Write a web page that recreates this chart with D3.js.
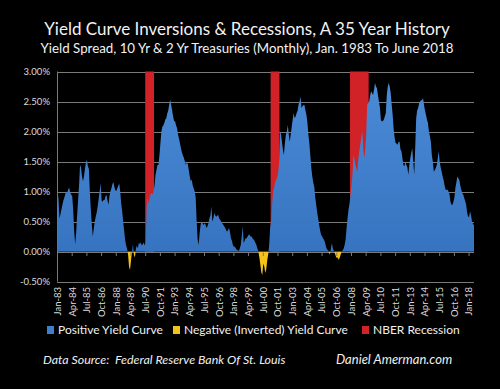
<!DOCTYPE html>
<html>
<head>
<meta charset="utf-8">
<script src="https://cdn.jsdelivr.net/npm/d3@7"></script>
<style>
  body { margin: 0; background: #000; }
  svg { display: block; }
  text { font-family: Lato, "Open Sans", sans-serif; }
</style>
</head>
<body>
<svg id="chart"></svg>
<script>
// monthly 10 yr - 2 yr spread (%), Jan 1983 .. Jun 2018
const startMonth = "1983-01";
const spread = [
  1.00, 0.88, 0.55, 0.62, 0.70, 0.78, 0.85, 0.90, 0.96, 1.00, 0.98, 1.04, // 1983
  1.06, 0.98, 0.95, 0.92, 0.70, 0.35, 0.12, 0.30, 0.60, 0.85, 1.10, 1.44, // 1984
  1.40, 1.25, 1.17, 1.25, 1.38, 1.48, 1.53, 1.42, 1.38, 1.00, 0.70, 0.45, // 1985
  0.25, 0.38, 0.50, 0.58, 0.65, 0.75, 0.88, 1.00, 1.14, 0.85, 0.83, 0.86, // 1986
  0.86, 0.92, 0.94, 0.85, 0.78, 0.92, 1.00, 1.05, 1.12, 1.16, 1.08, 1.02, // 1987
  1.01, 1.05, 1.10, 1.13, 1.00, 0.80, 0.67, 0.50, 0.35, 0.20, 0.10, 0.05, // 1988
  -0.05, -0.25, -0.31, -0.15, 0.00, 0.12, -0.06, -0.10, 0.05, 0.10, 0.05, 0.15, // 1989
  0.12, 0.15, 0.10, 0.12, 0.15, 0.10, 0.15, 0.75, 0.90, 0.80, 0.90, 0.95, // 1990
  0.98, 0.95, 1.00, 1.10, 1.28, 1.36, 1.44, 1.44, 1.60, 1.80, 2.00, 2.08, // 1991
  2.10, 2.14, 2.20, 2.22, 2.30, 2.35, 2.45, 2.53, 2.44, 2.35, 2.25, 2.17, // 1992
  2.17, 2.10, 2.06, 1.95, 1.88, 1.80, 1.72, 1.65, 1.60, 1.56, 1.50, 1.44, // 1993
  1.50, 1.45, 1.35, 1.25, 1.17, 1.20, 1.10, 1.05, 1.00, 0.90, 0.50, 0.20, // 1994
  0.11, 0.30, 0.44, 0.50, 0.47, 0.44, 0.47, 0.45, 0.39, 0.42, 0.47, 0.55, // 1995
  0.60, 0.75, 0.50, 0.55, 0.64, 0.60, 0.58, 0.60, 0.61, 0.55, 0.53, 0.50, // 1996
  0.47, 0.45, 0.42, 0.40, 0.36, 0.33, 0.36, 0.39, 0.33, 0.22, 0.18, 0.11, // 1997
  0.08, 0.08, 0.05, 0.03, 0.02, 0.01, 0.05, 0.11, 0.25, 0.42, 0.14, 0.18, // 1998
  0.22, 0.22, 0.25, 0.28, 0.28, 0.25, 0.25, 0.22, 0.20, 0.18, 0.14, 0.11, // 1999
  0.05, 0.00, -0.10, -0.22, -0.35, -0.39, -0.20, -0.25, -0.36, -0.30, -0.15, -0.05, // 2000
  0.11, 0.40, 0.50, 0.78, 1.00, 1.06, 1.15, 1.19, 1.22, 1.30, 1.44, 1.97, // 2001
  1.97, 1.83, 1.70, 1.61, 1.80, 1.94, 2.00, 2.11, 1.95, 1.83, 1.95, 2.08, // 2002
  2.20, 2.31, 2.22, 2.25, 2.31, 2.35, 2.45, 2.50, 2.58, 2.39, 2.42, 2.44, // 2003
  2.44, 2.35, 2.28, 2.15, 1.95, 1.80, 1.60, 1.39, 1.25, 1.15, 1.08, 0.90, // 2004
  0.78, 0.65, 0.55, 0.44, 0.35, 0.28, 0.25, 0.22, 0.19, 0.15, 0.08, 0.03, // 2005
  0.03, -0.02, -0.05, 0.05, 0.14, 0.05, 0.01, -0.03, -0.08, -0.11, -0.10, -0.14, // 2006
  -0.10, -0.05, 0.00, 0.02, 0.05, 0.11, 0.20, 0.40, 0.56, 0.70, 0.80, 0.94, // 2007
  1.10, 1.28, 1.60, 1.55, 1.44, 1.38, 1.33, 1.55, 1.67, 1.78, 1.90, 2.00, // 2008
  1.70, 1.56, 1.70, 1.95, 2.44, 2.47, 2.50, 2.60, 2.67, 2.64, 2.61, 2.70, // 2009
  2.81, 2.75, 2.72, 2.60, 2.50, 2.40, 2.19, 2.17, 2.17, 2.20, 2.25, 2.31, // 2010
  2.60, 2.75, 2.81, 2.75, 2.64, 2.45, 2.28, 2.05, 1.90, 1.81, 1.80, 1.78, // 2011
  1.83, 1.83, 1.70, 1.67, 1.55, 1.44, 1.42, 1.50, 1.44, 1.40, 1.28, 1.44, // 2012
  1.56, 1.65, 1.72, 1.50, 1.28, 1.72, 2.22, 2.35, 2.39, 2.47, 2.50, 2.52, // 2013
  2.52, 2.56, 2.44, 2.35, 2.28, 2.20, 2.14, 2.00, 1.92, 1.83, 1.60, 1.50, // 2014
  1.33, 1.36, 1.39, 1.44, 1.55, 1.67, 1.50, 1.40, 1.33, 1.25, 1.19, 1.10, // 2015
  1.03, 1.03, 1.03, 1.00, 0.95, 0.83, 0.78, 0.78, 0.83, 0.90, 1.06, 1.15, // 2016
  1.25, 1.22, 1.19, 1.10, 1.03, 0.97, 0.95, 0.89, 0.84, 0.78, 0.65, 0.58, // 2017
  0.58, 0.67, 0.60, 0.50, 0.46, 0.44                                      // 2018
];

// NBER recessions (first and last month)
const recStart = ["1990-07", "2001-03", "2007-12"];
const recEnd = ["1991-03", "2001-11", "2009-06"];

const yTicks = [-0.5, 0, 0.5, 1, 1.5, 2, 2.5, 3];
const labelEvery = 15; // months between category labels

const legendItems = [
  { label: "Positive Yield Curve", color: "#3f7fcc" },
  { label: "Negative (Inverted) Yield Curve", color: "#f3c31c" },
  { label: "NBER Recession", color: "#d12228" }
];

const title = "Yield Curve Inversions & Recessions, A 35 Year History";
const subtitle = "Yield Spread, 10 Yr & 2 Yr Treasuries (Monthly), Jan. 1983 To June 2018";
const sourceText = "Data Source:  Federal Reserve Bank Of St. Louis";
const siteText = "Daniel Amerman.com";

//SETUP
const width = 500, height = 389;
const svg = d3.select('#chart').attr('width', width).attr('height', height);
svg.append('rect').attr('width', width).attr('height', height).attr('fill', '#000');

const parseMonth = d3.timeParse('%Y-%m');
const t0 = parseMonth(startMonth);
const monthIndex = (s) => d3.timeMonth.count(t0, parseMonth(s));
const dates = spread.map((_, i) => d3.timeMonth.offset(t0, i));

const x = d3.scaleLinear().domain([0, spread.length - 1]).range([57.5, 474]);
const y = d3.scaleLinear().domain([-0.5, 3]).range([281.5, 71.5]);

const defs = svg.append('defs');
const grad = defs.append('linearGradient').attr('id', 'blueGrad')
  .attr('x1', 0).attr('y1', 0).attr('x2', 0).attr('y2', 1);
grad.append('stop').attr('offset', '0%').attr('stop-color', '#4a8bd6');
grad.append('stop').attr('offset', '100%').attr('stop-color', '#3470bd');

defs.append('clipPath').attr('id', 'clipPos').append('rect')
  .attr('x', 0).attr('y', 0).attr('width', width).attr('height', y(0));
defs.append('clipPath').attr('id', 'clipNeg').append('rect')
  .attr('x', 0).attr('y', y(0)).attr('width', width).attr('height', height - y(0));

//GRID + Y AXIS
svg.append('g').selectAll('line').data(yTicks).join('line')
  .attr('x1', 57).attr('x2', 474)
  .attr('y1', (d) => Math.round(y(d)) + 0.5).attr('y2', (d) => Math.round(y(d)) + 0.5)
  .attr('stroke', '#7a7a7a').attr('stroke-width', 1);

svg.append('line')
  .attr('x1', 57.5).attr('x2', 57.5).attr('y1', y(3)).attr('y2', y(-0.5))
  .attr('stroke', '#7a7a7a');

svg.append('g').selectAll('text').data(yTicks).join('text')
  .attr('x', 50).attr('y', (d) => y(d)).attr('dy', '0.35em')
  .attr('text-anchor', 'end').attr('font-size', '9.5px').attr('fill', '#dcdcdc')
  .text((d) => d.toFixed(2) + '%');

//RECESSIONS
svg.append('g').selectAll('rect').data(recStart).join('rect')
  .attr('x', (d) => x(monthIndex(d) - 0.5))
  .attr('width', (d, i) => x(monthIndex(recEnd[i]) + 0.5) - x(monthIndex(d) - 0.5))
  .attr('y', y(3)).attr('height', y(0) - y(3))
  .attr('fill', '#d12228');

//SPREAD AREA
const area = d3.area()
  .x((d, i) => x(i))
  .y0(y(0))
  .y1((d) => y(d));

svg.append('path').datum(spread)
  .attr('clip-path', 'url(#clipPos)')
  .attr('fill', 'url(#blueGrad)')
  .attr('d', area);

svg.append('path').datum(spread)
  .attr('clip-path', 'url(#clipNeg)')
  .attr('fill', '#f3c31c')
  .attr('d', area);

//X AXIS
const tickIdx = d3.range(0, spread.length, labelEvery);
const fmt = d3.timeFormat('%b-%y');

svg.append('g').selectAll('line').data(tickIdx).join('line')
  .attr('x1', (d) => x(d)).attr('x2', (d) => x(d))
  .attr('y1', Math.round(y(0)) + 0.5).attr('y2', Math.round(y(0)) + 4)
  .attr('stroke', '#7a7a7a');

svg.append('g').selectAll('text').data(tickIdx).join('text')
  .attr('transform', (d) => `translate(${x(d)},287) rotate(-90)`)
  .attr('dy', '0.35em')
  .attr('text-anchor', 'end').attr('font-size', '9.5px').attr('fill', '#dcdcdc')
  .text((d) => fmt(dates[d]));

//TITLES
svg.append('text').attr('x', 247).attr('y', 35)
  .attr('text-anchor', 'middle').attr('font-size', '17px').attr('fill', '#f2f2f2')
  .text(title);
svg.append('text').attr('x', 247).attr('y', 53)
  .attr('text-anchor', 'middle').attr('font-size', '13.3px').attr('fill', '#f2f2f2')
  .text(subtitle);

//LEGEND
const legendX = [47, 173, 362];
const legend = svg.append('g').selectAll('g').data(legendItems).join('g')
  .attr('transform', (d, i) => `translate(${legendX[i]},330)`);
legend.append('rect').attr('x', 0).attr('y', -4).attr('width', 7).attr('height', 8)
  .attr('fill', (d) => d.color);
legend.append('text').attr('x', 11).attr('y', 0).attr('dy', '0.36em')
  .attr('font-size', '12px').attr('fill', '#f0f0f0')
  .text((d) => d.label);

//FOOTER
svg.append('text').attr('x', 43).attr('y', 364)
  .attr('font-size', '12.4px').attr('font-style', 'italic').attr('fill', '#f0f0f0')
  .attr('xml:space', 'preserve').style('white-space', 'pre')
  .text(sourceText);
svg.append('text').attr('x', 336).attr('y', 364)
  .attr('font-size', '13px').attr('font-style', 'italic').attr('fill', '#f0f0f0')
  .text(siteText);
</script>
</body>
</html>
